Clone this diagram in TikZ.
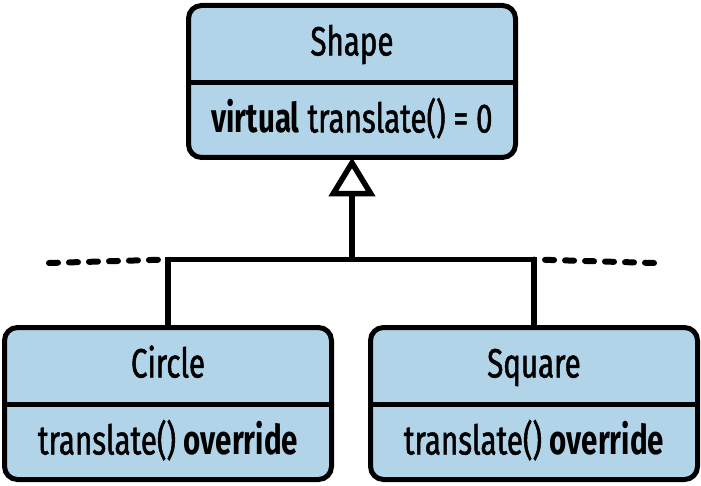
\documentclass[tikz,border=0pt]{standalone}
\usepackage{fontspec}
\setmainfont[FakeStretch=0.72, BoldFont={* Bold}, UprightFeatures={FakeBold=1.2}]{Fira Sans}
\usetikzlibrary{arrows.meta}
\definecolor{boxblue}{RGB}{177,212,233}
\begin{document}
\begin{tikzpicture}[x=1pt,y=-1pt,
  umlbox/.style={draw, fill=boxblue, line width=5pt, rounded corners=13pt,
    inner sep=0pt, outer sep=0pt, minimum width=327pt, minimum height=152pt, anchor=north west},
  txt/.style={font=\fontsize{41}{44}\selectfont, inner sep=0pt, anchor=base},
  conn/.style={line width=5.5pt},
  dashline/.style={line width=6pt, line cap=round, dash pattern=on 9pt off 11pt},
  ]
\useasboundingbox (0,0) rectangle (701,486);
% boxes
\node[umlbox] (shape) at (188.5,5.5) {};
\node[umlbox] (circle) at (4.5,327.5) {};
\node[umlbox] (square) at (370.5,327.5) {};
% dividers
\foreach \b in {shape,circle,square}{
  \draw[conn] ([yshift=-77pt]\b.north west) -- ([yshift=-77pt]\b.north east);
}
% texts
\node[txt] (shapeT) at ([yshift=-50pt]shape.north) {Shape};
\node[txt] (shapeM) at ([yshift=-127pt]shape.north) {\textbf{virtual} translate() = 0};
\node[txt] (circleT) at ([yshift=-50pt]circle.north) {Circle};
\node[txt] (circleM) at ([yshift=-127pt]circle.north) {translate() \textbf{override}};
\node[txt] (squareT) at ([yshift=-50pt]square.north) {Square};
\node[txt] (squareM) at ([yshift=-127pt]square.north) {translate() \textbf{override}};
% connectors
\coordinate (j) at ([yshift=-102pt]shape.south);
\coordinate (dl) at (49,263);
\coordinate (dr) at (654,263);
\draw[conn, -{Triangle[open, length=39pt, width=46pt]}] (j) -- (shape.south);
\draw[conn] (circle.north) |- (j) -| (square.north);
\draw[dashline] (dl) -- (circle.north |- j);
\draw[dashline] (dr) -- (square.north |- j);
\end{tikzpicture}
\end{document}
